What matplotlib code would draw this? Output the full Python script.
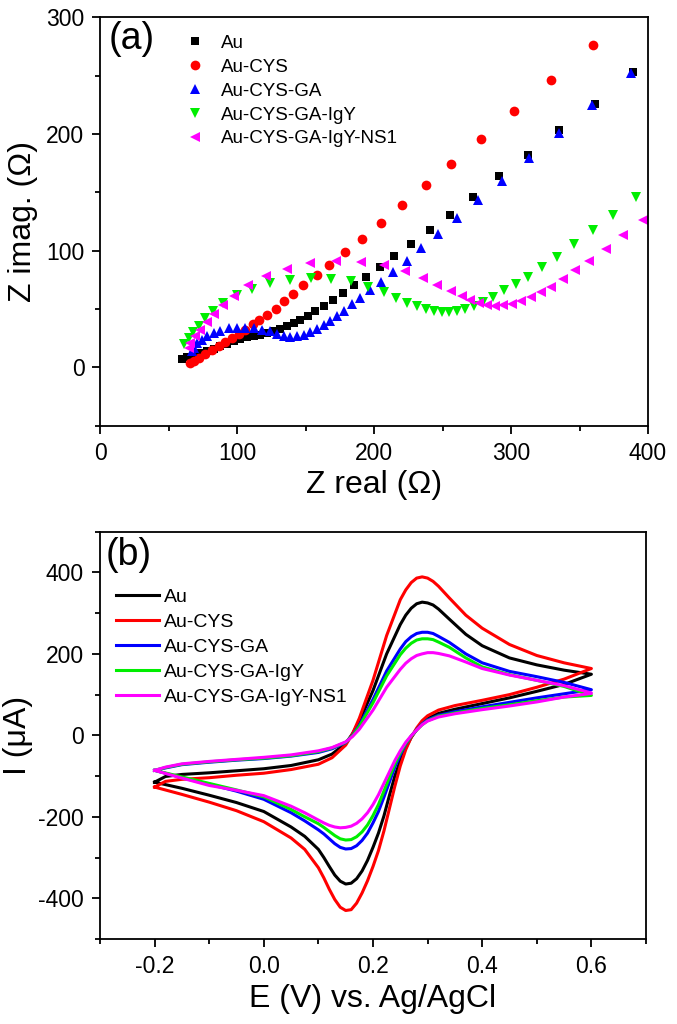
import matplotlib
matplotlib.use('Agg')
import matplotlib.pyplot as plt
from matplotlib.ticker import MultipleLocator, FormatStrFormatter

plt.rcParams['font.family'] = ['Liberation Sans', 'DejaVu Sans']
plt.rcParams['axes.unicode_minus'] = False

# ---------------- Panel (a): Nyquist data ----------------
labels = ['Au', 'Au-CYS', 'Au-CYS-GA', 'Au-CYS-GA-IgY', 'Au-CYS-GA-IgY-NS1']

au_zre = [59.6, 63.3, 68.1, 73, 77.9, 82.7, 87.6, 92.5, 97.3, 102.2, 107.1, 112, 116.8, 121.7,
          126.6, 131.4, 136.3, 141.1, 146, 151.3, 156.9, 163, 169.8, 177.1, 184.9, 193.9, 204.4,
          214.8, 227.2, 240.9, 255.5, 272.5, 291, 312, 335, 361, 389]
au_zim = [7.3, 9, 11, 12.4, 13.8, 15.9, 18.1, 20.1, 22.4, 24.4, 25.8, 27, 28.1, 29.2,
          31, 33, 35.3, 38.1, 41, 44.4, 48.1, 52.4, 57.9, 63.9, 70.2, 77.4, 86,
          95.4, 105.8, 117.8, 130.7, 146, 163.6, 182, 203, 226, 253]

cys_zre = [65.7, 68.1, 71.8, 76.6, 81.5, 86.4, 91.2, 96.1, 101, 105.8, 111.4, 116, 122, 128,
           134, 141, 148, 158, 167, 178.5, 191, 205, 220, 238, 256, 278, 302, 329, 360]
cys_zim = [3.7, 5.2, 8.0, 11.5, 15.2, 18.3, 21.8, 25.2, 28.7, 32.4, 37, 41, 45, 50.4,
           56.7, 63, 70.5, 79, 88, 98.6, 110, 124, 139, 156, 174, 196, 220, 246, 276]

ga_zre = [66.9, 68.1, 70.6, 74.2, 77.9, 82.7, 87.6, 93.7, 99.8, 105.8, 112, 118, 124.1, 129,
          133.8, 138.7, 143.6, 148.4, 153.3, 158.1, 163, 167.9, 172.7, 178.1, 183.7, 189.8,
          197.1, 204.9, 213.6, 223.8, 234.3, 246.5, 260.4, 276, 293.2, 313, 335, 359.4, 387.6]
ga_zim = [13.8, 16.6, 20.9, 23.8, 26.6, 29.5, 31.5, 33.3, 33.8, 33.8, 33.3, 32.4, 31, 28.7,
          26.6, 25.8, 26.6, 28, 30, 32.9, 36.6, 40.1, 43.8, 48.7, 53.9, 59.6,
          65.9, 73.3, 81.7, 91.1, 102, 114.6, 127.8, 143.3, 160, 179.4, 201, 224.9, 252.4]

igy_zre = [61.3, 64.5, 67.6, 71.8, 76.6, 82.3, 89.5, 99.8, 110.7, 124.1, 138.7, 153.8, 168.4,
           183.3, 195.8, 206.8, 216, 223.8, 231.2, 238, 243.8, 249.4, 254.7, 260.4, 266.4, 273,
           279.8, 287.1, 294.9, 303.4, 312.7, 322.4, 333.3, 346, 359.6, 374.2, 391]
igy_zim = [19.6, 24.8, 30, 35.8, 42.1, 48.4, 55, 61.6, 67.3, 72.2, 75.1, 76.5, 75.9,
           73.6, 69.2, 64.7, 59.6, 55.3, 52.2, 49.6, 48.1, 47, 47.6, 48.7, 50.4, 52.4,
           56.1, 60.2, 65.9, 71.1, 77.6, 86, 94.8, 105.5, 117.5, 130.7, 146.4]

ns1_zre = [64.5, 65.7, 69.3, 73, 77.9, 83.2, 89.5, 97.8, 108, 121.2, 136.3, 153.3, 172.3, 190.3,
           206.8, 222.6, 235.5, 246.2, 256, 264, 270.1, 276.2, 282.2, 288.3, 294.4, 300.5, 307.1,
           314.4, 321.7, 329.2, 337.7, 347, 357.2, 369.3, 382, 396.6]
ns1_zim = [17, 20.9, 26.6, 32.4, 39, 45.9, 53.3, 61, 70.5, 78.2, 84.5, 89.1, 91.1, 90.5,
           87.7, 82.5, 76.2, 70.5, 65.3, 61, 57.3, 54.8, 53, 52.2, 53, 54.4, 56.7,
           60.2, 64.5, 69, 75.4, 83.1, 91.1, 101.2, 113.2, 126.4]

# ---------------- Panel (b): CV data ----------------
E_fwd = [-0.2, -0.18, -0.15, -0.1, -0.05, 0.0, 0.05, 0.1, 0.125, 0.15, 0.1625, 0.175, 0.2, 0.225,
         0.25, 0.26, 0.27, 0.28, 0.29, 0.30, 0.31, 0.32, 0.34, 0.37, 0.4, 0.45, 0.5, 0.55, 0.6]
E_rev = [0.6, 0.55, 0.5, 0.45, 0.4, 0.35, 0.32, 0.3, 0.29, 0.28, 0.27, 0.26, 0.25, 0.24,
         0.23, 0.22, 0.21, 0.2, 0.19, 0.18, 0.17, 0.16, 0.15, 0.14, 0.13, 0.12, 0.11, 0.1,
         0.075, 0.05, 0.0, -0.05, -0.1, -0.15, -0.2]

au_fwd = [-115, -101, -96, -92, -87, -82, -74, -60, -46, -20, 4, 35, 110, 200,
          272, 295, 312, 323, 327, 325, 320, 310, 285, 248, 220, 190, 173, 160, 150]
au_rev = [150, 125, 108, 92, 78, 64, 54, 41, 30, 14, -5, -30, -62, -100, -148, -198, -240,
          -275, -307, -333, -352, -363, -365, -358, -343, -322, -300, -280, -248, -225,
          -187, -165, -147, -130, -115]

cys_fwd = [-127, -113, -108, -104, -98, -93, -84, -71, -55, -24, 4, 42, 135, 245,
           333, 357, 375, 386, 389, 386, 378, 366, 337, 295, 263, 223, 196, 178, 164]
cys_rev = [164, 138, 118, 100, 86, 73, 62, 48, 36, 18, -5, -35, -75, -125, -180, -235, -283,
           -322, -357, -387, -412, -428, -430, -422, -403, -378, -350, -325, -280, -252,
           -212, -185, -164, -145, -127]

ga_fwd = [-86, -80, -72, -66, -61, -57, -51, -42, -33, -18, 0, 25, 88, 158,
          212, 230, 242, 250, 253, 253, 250, 243, 228, 200, 178, 157, 144, 130, 112]
ga_rev = [112, 102, 92, 81, 70, 58, 49, 38, 28, 14, -2, -22, -48, -78, -115, -152, -187,
          -215, -240, -258, -271, -278, -279, -275, -266, -254, -242, -232, -210, -190,
          -157, -137, -120, -104, -86]

igy_fwd = [-86, -79, -71, -65, -60, -56, -50, -40, -31, -17, -1, 22, 80, 146,
           198, 214, 226, 234, 237, 237, 235, 229, 216, 190, 168, 149, 135, 120, 98]
igy_rev = [98, 94, 85, 75, 66, 55, 47, 36, 26, 13, -2, -20, -43, -70, -103, -137, -170,
           -197, -220, -237, -249, -256, -257, -254, -246, -236, -226, -217, -200, -182,
           -151, -134, -118, -102, -86]

ns1_fwd = [-86, -78, -70, -64, -59, -54, -48, -38, -30, -16, -3, 15, 62, 118,
           162, 177, 188, 196, 200, 203, 203, 201, 195, 180, 164, 148, 135, 122, 104]
ns1_rev = [103, 94, 82, 72, 63, 53, 45, 35, 26, 13, -1, -17, -38, -62, -90, -118, -146,
           -170, -190, -205, -216, -223, -226, -227, -225, -221, -215, -208, -190, -174,
           -148, -135, -123, -105, -86]

colors = ['#000000', '#ff0000', '#0000ff', '#00ee00', '#ff00ff']
markers = ['s', 'o', '^', 'v', '<']
msizes = [6.3, 7.0, 7.4, 7.4, 7.4]

fig = plt.figure(figsize=(6.77, 10.24), dpi=100)

TICK_FS = 16.5
LABEL_FS = 23

def style_axes(ax):
    for s in ax.spines.values():
        s.set_linewidth(1.3)
    ax.tick_params(which='both', direction='out', top=False, right=False, width=1.3,
                   labelsize=TICK_FS, pad=6)
    ax.tick_params(which='major', length=5.5)
    ax.tick_params(which='minor', length=3.5)

# Panel (a)
ax1 = fig.add_axes([0.1484, 0.5843, 0.8087, 0.3988])
nyq = [(au_zre, au_zim), (cys_zre, cys_zim), (ga_zre, ga_zim), (igy_zre, igy_zim), (ns1_zre, ns1_zim)]
for (zr, zi), c, m, ms, lab in zip(nyq, colors, markers, msizes, labels):
    ax1.plot(zr, zi, linestyle='none', marker=m, markersize=ms, color=c,
             markeredgewidth=0, label=lab)
ax1.set_xlim(0, 400)
ax1.set_ylim(-50, 300)
ax1.xaxis.set_major_locator(MultipleLocator(100))
ax1.xaxis.set_minor_locator(MultipleLocator(50))
ax1.yaxis.set_major_locator(MultipleLocator(100))
ax1.yaxis.set_minor_locator(MultipleLocator(50))
style_axes(ax1)
ax1.set_xlabel('Z real (\u03A9)', fontsize=LABEL_FS, labelpad=4)
ax1.set_ylabel('Z imag. (\u03A9)', fontsize=LABEL_FS, labelpad=6)
ax1.text(0.014, 0.992, '(a)', transform=ax1.transAxes, fontsize=27, ha='left', va='top')
ax1.legend(loc='upper left', bbox_to_anchor=(0.155, 0.957), frameon=False, fontsize=13.5,
           borderpad=0, borderaxespad=0, handlelength=1.0, handletextpad=0.92,
           labelspacing=0.36, numpoints=1)

# Panel (b)
ax2 = fig.add_axes([0.1477, 0.0830, 0.8065, 0.3978])
cv = [(au_fwd, au_rev), (cys_fwd, cys_rev), (ga_fwd, ga_rev), (igy_fwd, igy_rev), (ns1_fwd, ns1_rev)]
for (fw, rv), c, lab in zip(cv, colors, labels):
    ax2.plot(list(E_fwd) + list(E_rev), list(fw) + list(rv), color=c, linewidth=2.2,
             label=lab, solid_joinstyle='round')
ax2.set_xlim(-0.3, 0.7)
ax2.set_ylim(-500, 500)
ax2.xaxis.set_major_locator(MultipleLocator(0.2))
ax2.xaxis.set_minor_locator(MultipleLocator(0.1))
ax2.xaxis.set_major_formatter(FormatStrFormatter('%.1f'))
ax2.yaxis.set_major_locator(MultipleLocator(200))
ax2.yaxis.set_minor_locator(MultipleLocator(100))
style_axes(ax2)
ax2.set_xlabel('E (V) vs. Ag/AgCl', fontsize=LABEL_FS, labelpad=4)
ax2.set_ylabel('I (\u03BCA)', fontsize=LABEL_FS, labelpad=4)
ax2.text(0.011, 0.988, '(b)', transform=ax2.transAxes, fontsize=27, ha='left', va='top')
ax2.legend(loc='upper left', bbox_to_anchor=(0.029, 0.860), frameon=False, fontsize=14,
           borderpad=0, borderaxespad=0, handlelength=2.23, handletextpad=0.24,
           labelspacing=0.375)

fig.savefig('out.png', dpi=100)
